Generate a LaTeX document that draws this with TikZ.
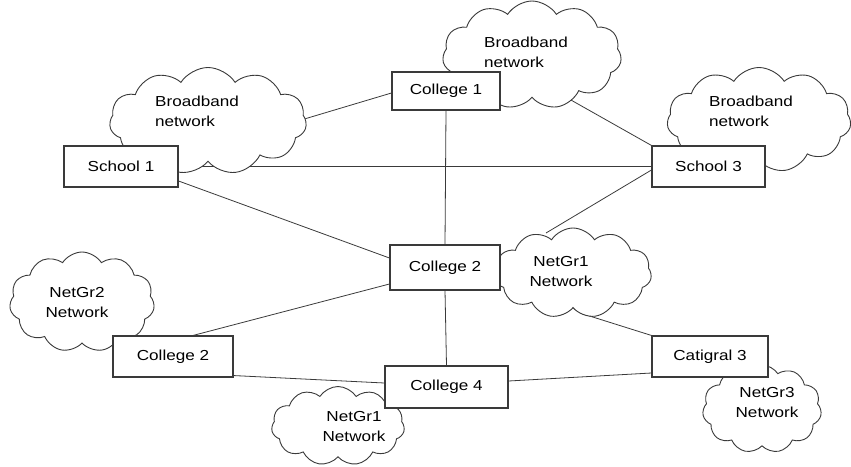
\documentclass[tikz,border=0pt]{standalone}
\usepackage{fontspec}
\setmainfont{Liberation Sans}[FakeStretch=1.18]
\usetikzlibrary{shapes.symbols}
\pgfdeclarelayer{back}
\pgfsetlayers{back,main}
\definecolor{ink}{HTML}{3A3A3A}
\tikzset{
  box/.style={draw=ink, line width=1.1pt, fill=white, inner sep=0pt,
    font=\fontsize{14.5}{19}\selectfont},
  netcloud/.style={cloud, cloud puffs=11, cloud puff arc=115, draw=ink,
    line width=0.9pt, fill=white, inner sep=0pt},
  cloudtext/.style={align=center, inner sep=0pt,
    font=\fontsize{14.5}{20}\selectfont},
  link/.style={draw=ink, line width=0.8pt}
}
\begin{document}
\begin{tikzpicture}[x=1pt, y=-1pt]
\useasboundingbox (0,0) rectangle (851,466);

% clouds
\node[netcloud, minimum width=197pt, minimum height=107pt] (bbL) at (208,121) {};
\node[netcloud, minimum width=179pt, minimum height=108pt] (bbT) at (532,55) {};
\node[netcloud, minimum width=184pt, minimum height=105pt] (bbR) at (759,120) {};
\node[netcloud, minimum width=157pt, minimum height=90pt] (ngM) at (573,273) {};
\node[netcloud, minimum width=145pt, minimum height=100pt] (ngL) at (82,302) {};
\node[netcloud, minimum width=133pt, minimum height=79pt] (ngB) at (338,426) {};
\node[netcloud, minimum width=119pt, minimum height=88pt] (ngR) at (762,409) {};

% cloud labels
\node[cloudtext, align=left] (bbLt) at (197,111) {Broadband\\network};
\node[cloudtext, align=left] (bbTt) at (526,52) {Broadband\\network};
\node[cloudtext, align=left] (bbRt) at (751,111) {Broadband\\network};
\node[cloudtext] (ngMt) at (561,272) {NetGr1\\Network};
\node[cloudtext] (ngLt) at (77,303) {NetGr2\\Network};
\node[cloudtext] (ngBt) at (354,427) {NetGr1\\Network};
\node[cloudtext] (ngRt) at (767,403) {NetGr3\\Network};

% sites
\node[box, minimum width=114pt, minimum height=41pt] (s1) at (121,166.5) {School 1};
\node[box, minimum width=108pt, minimum height=38pt] (c1) at (446,91) {College 1};
\node[box, minimum width=113pt, minimum height=41pt] (s3) at (708.5,166.5) {School 3};
\node[box, minimum width=110pt, minimum height=45pt] (cm) at (445,267.5) {College 2};
\node[box, minimum width=120pt, minimum height=41pt] (cl) at (173,356.5) {College 2};
\node[box, minimum width=123pt, minimum height=42pt] (c4) at (446.5,387) {College 4};
\node[box, minimum width=116pt, minimum height=41pt] (ca) at (710,356.5) {Catigral 3};

% links, kept underneath clouds and boxes
\begin{pgfonlayer}{back}
\draw[link] ([xshift=-2pt,yshift=2pt]bbL.east) -- ([yshift=-2pt]c1.west);
\draw[link] (s1.east) -- (s3.west);
\draw[link] ([yshift=-14.5pt]s1.east) -- ([yshift=9.5pt]cm.west);
\draw[link] (c1.south) -- (cm.north);
\draw[link] ([xshift=23pt,yshift=7pt]bbT.south) -- (s3.north west);
\draw[link] ([yshift=-3.5pt]s3.west) -- ([xshift=-27pt,yshift=40pt]ngM.center);
\draw[link] ([yshift=-16.5pt]cm.west) -- ([xshift=20pt]cl.north);
\draw[link] (cm.south) -- (c4.north);
\draw[link] ([xshift=7pt,yshift=-40pt]ngM.center) -- (ca.north west);
\draw[link] ([yshift=2pt]cl.south east) -- ([yshift=4pt]c4.west);
\draw[link] ([yshift=6pt]c4.east) -- ([yshift=-16.5pt]ca.west);
\end{pgfonlayer}
\end{tikzpicture}
\end{document}
